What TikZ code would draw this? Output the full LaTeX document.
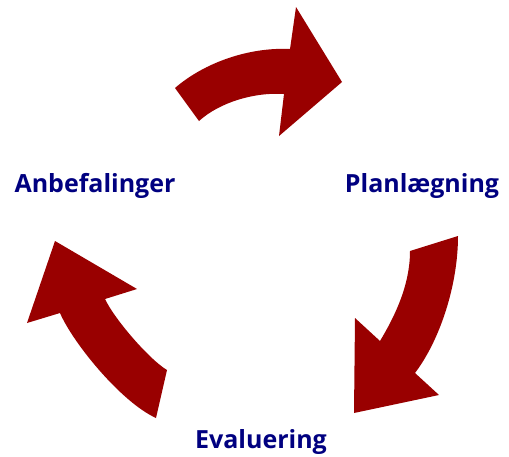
\documentclass[tikz,border=0pt]{standalone}
\usepackage{fontspec}
\setmainfont{Open Sans}
\definecolor{pilrod}{RGB}{153,0,0}
\definecolor{fasebla}{RGB}{0,0,128}
\begin{document}
\begin{tikzpicture}[x=1pt,y=-1pt,line join=round,
    pilform/.style={fill=pilrod},
    fase/.style={text=fasebla,font=\fontsize{25}{30}\selectfont\bfseries,inner sep=0pt,anchor=base}]
    \useasboundingbox (0,0) rectangle (509,456);
    % pil fra Anbefalinger til Planlaegning
    \fill[pilform] (175,88) .. controls (205,62) and (250,47) .. (290,49) -- (296,7) -- (342,82) -- (279,136) -- (284,94)
        .. controls (255,92) and (220,102) .. (199,121) -- cycle;
    % pil fra Planlaegning til Evaluering
    \fill[pilform] (458,236) .. controls (458,285) and (440,340) .. (415,373) -- (439,395) -- (354,413) -- (355,318) -- (380,341)
        .. controls (395,316) and (410,285) .. (410,251) -- cycle;
    % pil fra Evaluering til Anbefalinger
    \fill[pilform] (156,418) .. controls (121,402) and (73,343) .. (60,313) -- (27,323) -- (55,241) -- (137,289) -- (105,299)
        .. controls (115,320) and (150,360) .. (167,370) -- cycle;
    \node[fase] (anbef) at (95,192) {Anbefalinger};
    \node[fase] (plan) at (422,192) {Planlægning};
    \node[fase] (eval) at (261,448) {Evaluering};
\end{tikzpicture}
\end{document}
